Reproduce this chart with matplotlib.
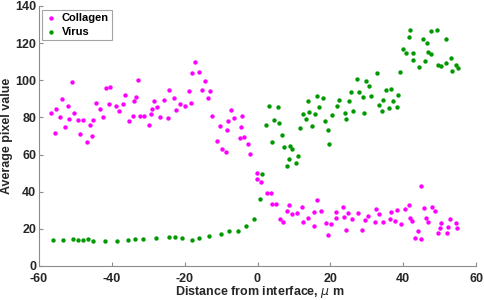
import matplotlib
matplotlib.use("Agg")
import matplotlib.pyplot as plt

plt.rcParams['font.family'] = ['Liberation Sans', 'DejaVu Sans']
plt.rcParams['axes.unicode_minus'] = False

collagen_x = [-56.6, -55.5, -55.2, -54.2, -53.7, -52.9, -52.0, -51.8, -50.9, -50.3,
              -49.4, -48.7, -47.9, -46.7, -46.1, -45.5, -45.2, -44.3, -43.2, -42.4,
              -41.5, -40.4, -40.8, -38.8, -38.0, -37.0, -36.4, -35.2, -34.1, -34.0,
              -33.3, -32.8, -32.4, -31.1, -29.8, -29.3, -28.9, -28.3, -27.6, -26.9,
              -25.7, -24.7, -24.3, -22.8, -22.3, -21.2, -19.8, -18.9, -18.3, -18.0,
              -17.2, -16.1, -15.2, -14.3, -13.5, -13.0, -12.6, -11.1, -10.4, -9.7,
              -8.6, -8.5, -8.2, -7.2, -6.45, -4.9, -4.6, -4.2, -3.7, -2.5,
              -2.06, -0.2, -0.2, 0.9, 2.5, 3.8, 4.1, 5.0, 6.1, 7.1,
              8.0, 8.7, 9.5, 10.9, 12.1, 12.4, 13.9, 15.4, 15.4, 16.3,
              17.4, 18.8, 19.4, 20.3, 21.5, 21.6, 23.6, 23.8, 24.3, 24.8,
              25.9, 27.5, 28.6, 29.4, 30.3, 32.3, 32.5, 33.3, 34.5, 36.3,
              36.6, 37.8, 38.4, 39.5, 40.5, 41.6, 42.0, 42.5, 43.3, 44.0,
              44.9, 44.8, 45.8, 46.3, 46.8, 47.8, 48.7, 49.6, 50.0, 50.4,
              51.9, 52.2, 52.9, 54.4, 54.7]
collagen_y = [82.4, 71.4, 84.3, 80.4, 90.1, 74.7, 86.3, 79.2, 99.3, 82.4,
              78.4, 70.9, 78.4, 66.8, 75.9, 70.2, 78.4, 87.6, 84.4, 80.4,
              95.7, 96.2, 87.4, 86.3, 83.3, 87.1, 92.1, 77.9, 80.8, 89.0,
              91.0, 100.2, 80.8, 80.8, 75.9, 82.0, 84.4, 88.9, 85.5, 80.1,
              89.6, 79.9, 94.8, 90.7, 83.8, 87.2, 86.2, 94.1, 87.8, 103.7,
              110.0, 104.2, 94.6, 99.8, 90.6, 94.1, 80.8, 67.3, 75.4, 63.2,
              61.6, 73.2, 78.3, 84.0, 79.5, 68.9, 74.9, 80.8, 69.5, 65.9,
              60.5, 50.1, 46.8, 45.0, 39.5, 39.5, 33.5, 33.4, 25.5, 23.7,
              29.6, 32.8, 28.2, 28.7, 31.6, 23.5, 26.0, 29.2, 21.7, 35.7,
              29.5, 23.2, 16.7, 22.8, 28.9, 25.8, 31.9, 26.5, 19.5, 28.7,
              25.3, 28.7, 19.4, 24.9, 27.1, 23.7, 30.5, 28.0, 23.9, 25.1,
              29.1, 24.1, 30.2, 22.5, 30.5, 33.0, 26.0, 24.4, 15.2, 19.0,
              43.1, 14.5, 31.1, 25.7, 23.7, 31.9, 29.8, 17.6, 20.3, 23.2,
              17.8, 20.8, 25.1, 23.0, 20.6]

virus_x = [-56.1, -53.5, -50.8, -49.4, -48.0, -46.6, -45.1, -41.9, -38.6, -35.6,
           -33.6, -31.5, -28.0, -24.3, -22.7, -20.6, -17.9, -16.1, -13.2, -10.0,
           -7.7, -5.4, -3.2, -0.9, 0.8, 1.3, 4.1, 6.6, 7.2, 9.0,
           9.6, 8.6, 11.0, 8.1, 10.5, 19.4, 19.5, 3.2, 5.5, 4.4,
           2.3, 6.0, 11.6, 12.6, 13.3, 13.9, 14.1, 15.0, 15.9, 16.4,
           17.0, 18.1, 18.5, 20.5, 21.7, 22.3, 23.9, 24.3, 25.1, 25.7,
           26.2, 27.2, 27.9, 29.1, 29.2, 29.7, 30.6, 31.1, 32.7, 33.4,
           34.2, 34.5, 35.3, 36.1, 36.7, 37.2, 38.2, 38.5, 39.2, 39.9,
           40.7, 41.6, 41.8, 42.8, 42.7, 44.3, 45.4, 46.0, 46.6, 46.8,
           47.6, 47.7, 49.3, 49.7, 50.4, 51.7, 51.8, 53.1, 53.5, 54.4,
           55.1]
virus_y = [14.2, 13.8, 14.5, 13.8, 13.8, 14.7, 13.3, 13.5, 13.5, 14.0,
           14.5, 14.5, 14.9, 15.8, 15.6, 14.9, 14.2, 15.2, 16.2, 17.2,
           18.8, 18.8, 21.4, 25.1, 36.0, 49.7, 66.9, 70.4, 64.3, 64.8,
           63.0, 57.6, 59.4, 54.0, 55.6, 73.2, 65.5, 86.3, 85.8, 78.8,
           75.8, 76.8, 74.5, 81.9, 79.2, 89.0, 82.9, 75.6, 81.9, 91.5,
           85.8, 90.5, 78.2, 81.3, 86.3, 89.4, 82.6, 79.0, 89.0, 93.5,
           83.5, 100.9, 93.7, 91.0, 82.6, 99.6, 96.8, 91.7, 104.1, 86.7,
           83.5, 89.6, 94.9, 84.9, 95.5, 88.7, 85.8, 91.9, 104.5, 117.0,
           114.7, 123.2, 127.3, 114.7, 110.8, 107.3, 122.5, 110.2, 120.2, 115.2,
           114.2, 126.7, 127.1, 108.2, 107.7, 122.2, 109.2, 112.0, 105.0, 108.1,
           106.8]

x_ticks = [-60, -40, -20, 0, 20, 40, 60]
y_ticks = [0, 20, 40, 60, 80, 100, 120, 140]

fig = plt.figure(figsize=(4.84, 3.0), dpi=100)
ax = fig.add_axes([39/484, 34/300, 437/484, 260/300])

ax.scatter(collagen_x, collagen_y, s=10, color='#FF00FF', linewidths=0, label='Collagen', zorder=3)
ax.scatter(virus_x, virus_y, s=10, color='#009900', linewidths=0, label='Virus', zorder=3)

ax.set_xlim(-60, 60)
ax.set_ylim(0, 140)
ax.set_xticks(x_ticks)
ax.set_yticks(y_ticks)

for s in ['top', 'right']:
    ax.spines[s].set_visible(False)
for s in ['left', 'bottom']:
    ax.spines[s].set_color('#8c8c8c')
    ax.spines[s].set_linewidth(0.8)

ax.tick_params(direction='in', length=3, width=0.8, color='#8c8c8c',
               labelsize=9, labelcolor='#262626', pad=2)
ax.tick_params(axis='x', pad=5)
for lbl in ax.get_xticklabels() + ax.get_yticklabels():
    lbl.set_fontweight('bold')

ax.set_xlabel('Distance from interface, $\\mu$ m', fontsize=9, fontweight='bold',
              color='#262626')
ax.set_ylabel('Average pixel value', fontsize=9, fontweight='bold',
              color='#262626')
ax.xaxis.set_label_coords(0.5046, (266 - 284) / 260)
ax.yaxis.set_label_coords((13 - 39) / 437, 0.5)

leg = ax.legend(loc='upper left', bbox_to_anchor=(42/484, 1 - 10/300),
                bbox_transform=fig.transFigure, borderaxespad=0,
                frameon=True, fancybox=False, markerscale=1.0,
                handlelength=1.0, handletextpad=0.5, borderpad=0.3,
                labelspacing=0.3, prop={'weight': 'bold', 'size': 8})
leg.get_frame().set_edgecolor('#8c8c8c')
leg.get_frame().set_linewidth(0.8)

fig.savefig('out.png', dpi=100)
